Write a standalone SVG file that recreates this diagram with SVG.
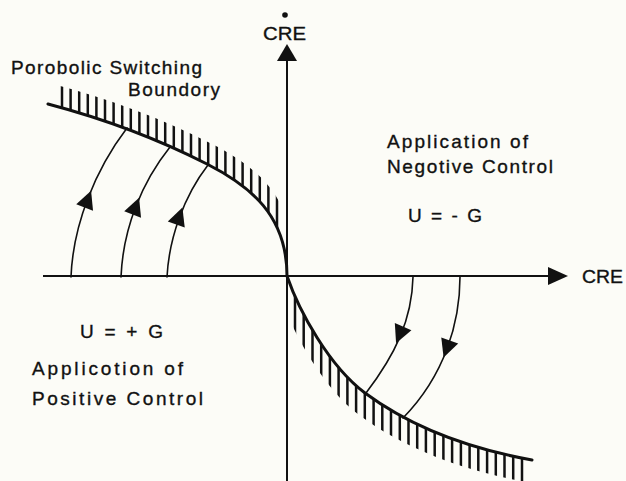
<svg xmlns="http://www.w3.org/2000/svg" xmlns:xlink="http://www.w3.org/1999/xlink" width="626" height="481" viewBox="0 0 626 481">
<style>
.ln{fill:none;stroke:#111;stroke-width:1.6;stroke-linecap:round}
.ax{fill:none;stroke:#111;stroke-width:2}
.bd{fill:none;stroke:#111;stroke-width:3;stroke-linecap:round}
.ht{stroke:#111;stroke-width:2.5}
.ah{fill:#111}
text{font-family:"Liberation Sans",Arial,sans-serif;font-size:19px;fill:#111;stroke:#111;stroke-width:0.35}
</style>
<defs>
<polygon id="tri" points="10,0 -8,-9 -8,9"/>
<clipPath id="clipTop"><path d="M287,276 C287,215 250,186 207,164 C154,137 101,118 48,104 L53,84 C106,98 159,117 212,144 C255,166 292,195 292,256 Z"/></clipPath>
<clipPath id="clipBot"><path d="M287,276 C299,311 329,366 365,393 C415,430 477,450 532,460 L526,482 C471,472 409,452 359,415 C323,388 293,333 281,298 Z"/></clipPath>
</defs>
<rect width="626" height="481" fill="#fcfcf7"/>

<g id="axes">
<line class="ax" x1="287" y1="58" x2="287" y2="481"/>
<polygon class="ah" points="287,44 277,61 297,61"/>
<line class="ax" x1="43" y1="276" x2="552" y2="276"/>
<polygon class="ah" points="568,276 548,267 548,285"/>
</g>

<g id="boundary-top">
<path class="bd" d="M287,276 C287,215 250,186 207,164 C154,137 101,118 48,104"/>
<g clip-path="url(#clipTop)">
<path class="ht" d="M62,60V280M70.6,60V280M79.2,60V280M87.8,60V280M96.4,60V280M105,60V280M113.6,60V280M122.2,60V280M130.8,60V280M139.4,60V280M148,60V280M156.6,60V280M165.2,60V280M173.8,60V280M182.4,60V280M191,60V280M199.6,60V280M208.2,60V280M216.8,60V280M225.4,60V280M234,60V280M242.6,60V280M251.2,60V280M259.8,60V280M268.4,60V280M277,60V280"/>
</g>
</g>

<g id="boundary-bottom">
<path class="bd" d="M287,276 C299,311 329,366 365,393 C415,430 477,450 532,460"/>
<g clip-path="url(#clipBot)">
<path class="ht" d="M295,270V490M303.7,270V490M312.5,270V490M321.2,270V490M329.9,270V490M338.6,270V490M347.4,270V490M356.1,270V490M364.8,270V490M373.6,270V490M382.3,270V490M391,270V490M399.8,270V490M408.5,270V490M417.2,270V490M425.9,270V490M434.7,270V490M443.4,270V490M452.1,270V490M460.9,270V490M469.6,270V490M478.3,270V490M487.1,270V490M495.8,270V490M504.5,270V490M513.2,270V490M522,270V490"/>
</g>
</g>

<g id="trajectories">
<path class="ln" d="M71,277 C73,225 95,170 127,128"/>
<use xlink:href="#tri" class="ah" transform="translate(87.5,200) rotate(-69)"/>
<path class="ln" d="M121,277 C123,228 142,182 170,147"/>
<use xlink:href="#tri" class="ah" transform="translate(135.5,207) rotate(-69)"/>
<path class="ln" d="M167,277 C169,238 184,196 208,165"/>
<use xlink:href="#tri" class="ah" transform="translate(179,217) rotate(-70)"/>
<path class="ln" d="M413,277 C412,320 395,355 366,393"/>
<use xlink:href="#tri" class="ah" transform="translate(400,334) rotate(113)"/>
<path class="ln" d="M460,277 C460,322 445,375 403,418"/>
<use xlink:href="#tri" class="ah" transform="translate(447,348) rotate(110)"/>
</g>

<g id="labels">
<circle cx="285" cy="15" r="2.8" fill="#111"/>
<text x="263" y="40" textLength="43" lengthAdjust="spacingAndGlyphs">CRE</text>
<text x="582" y="283" textLength="41" lengthAdjust="spacingAndGlyphs">CRE</text>
<text x="11" y="74" textLength="191" lengthAdjust="spacing">Porobolic Switching</text>
<text x="128" y="96" textLength="92" lengthAdjust="spacing">Boundory</text>
<text x="387" y="148" textLength="141" lengthAdjust="spacing">Application of</text>
<text x="387" y="173" textLength="166" lengthAdjust="spacing">Negotive Control</text>
<text x="408" y="222" textLength="74" lengthAdjust="spacing">U = - G</text>
<text x="80" y="338" textLength="83" lengthAdjust="spacing">U = + G</text>
<text x="32" y="375" textLength="151" lengthAdjust="spacing">Applicotion of</text>
<text x="32" y="405" textLength="171" lengthAdjust="spacing">Positive Control</text>
</g>
</svg>
